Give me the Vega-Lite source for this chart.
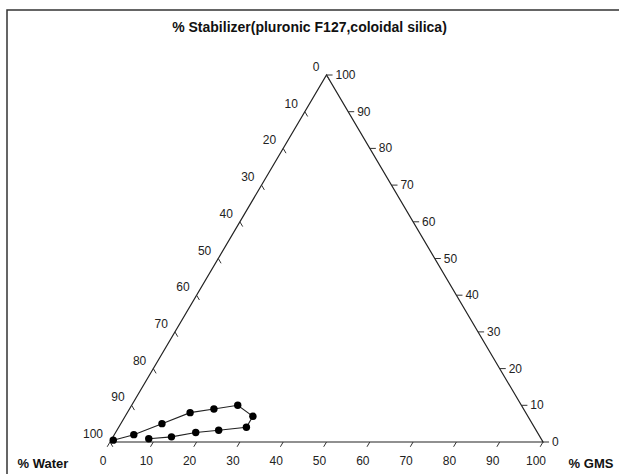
{
  "$schema": "https://vega.github.io/schema/vega-lite/v6.json",
  "width": 613,
  "height": 465,
  "autosize": {"type": "none"},
  "padding": {"left": 7, "top": 10, "right": 0, "bottom": 0},
  "background": "white",
  "title": {
    "text": "% Stabilizer(pluronic F127,coloidal silica)",
    "frame": "group",
    "anchor": "middle",
    "offset": 0,
    "baseline": "middle",
    "dy": 32,
    "dx": -4,
    "fontSize": 14,
    "fontWeight": "bold",
    "font": "Liberation Sans",
    "color": "#111"
  },
  "config": {
    "font": "Liberation Sans",
    "view": {"stroke": "#333", "strokeWidth": 1.5}
  },
  "datasets": {
    "ticks": [
      {"v": 0}, {"v": 10}, {"v": 20}, {"v": 30}, {"v": 40}, {"v": 50},
      {"v": 60}, {"v": 70}, {"v": 80}, {"v": 90}, {"v": 100}
    ],
    "frame": [
      {"i": 0, "gms": 0, "stab": 0},
      {"i": 1, "gms": 100, "stab": 0},
      {"i": 2, "gms": 0, "stab": 100},
      {"i": 3, "gms": 0, "stab": 0}
    ],
    "points": [
      {"i": 1, "water": 99.0, "gms": 0.5, "stab": 0.5},
      {"i": 2, "water": 93.5, "gms": 4.5, "stab": 2.0},
      {"i": 3, "water": 85.5, "gms": 9.5, "stab": 5.0},
      {"i": 4, "water": 77.5, "gms": 14.5, "stab": 8.0},
      {"i": 5, "water": 71.5, "gms": 19.5, "stab": 9.0},
      {"i": 6, "water": 65.5, "gms": 24.5, "stab": 10.0},
      {"i": 7, "water": 63.5, "gms": 29.5, "stab": 7.0},
      {"i": 8, "water": 66.5, "gms": 29.5, "stab": 4.0},
      {"i": 9, "water": 73.3, "gms": 23.5, "stab": 3.2},
      {"i": 10, "water": 78.9, "gms": 18.5, "stab": 2.6},
      {"i": 11, "water": 85.1, "gms": 13.5, "stab": 1.4},
      {"i": 12, "water": 90.6, "gms": 8.5, "stab": 0.9}
    ]
  },
  "layer": [
    {
      "data": {"name": "frame"},
      "transform": [
        {"calculate": "datum.gms + datum.stab / 2", "as": "x"},
        {"calculate": "datum.stab * 0.8660254", "as": "y"}
      ],
      "mark": {"type": "line", "color": "#222", "strokeWidth": 1.2},
      "encoding": {
        "x": {"field": "x", "type": "quantitative", "axis": null, "scale": {"domain": [0, 100], "range": [103, 536], "nice": false, "zero": false}},
        "y": {"field": "y", "type": "quantitative", "axis": null, "scale": {"domain": [0, 86.60254], "range": [432, 65], "nice": false, "zero": false}},
        "order": {"field": "i", "type": "quantitative"}
      }
    },
    {
      "data": {"name": "ticks"},
      "transform": [
        {"calculate": "datum.v", "as": "x"},
        {"calculate": "0", "as": "y"},
        {"calculate": "datum.v - 0.65", "as": "x2"},
        {"calculate": "-1.13", "as": "y2"}
      ],
      "mark": {"type": "rule", "color": "#333", "strokeWidth": 1},
      "encoding": {
        "x": {"field": "x", "type": "quantitative"},
        "y": {"field": "y", "type": "quantitative"},
        "x2": {"field": "x2"},
        "y2": {"field": "y2"}
      }
    },
    {
      "data": {"name": "ticks"},
      "transform": [
        {"calculate": "(100 - datum.v) / 2", "as": "x"},
        {"calculate": "(100 - datum.v) * 0.8660254", "as": "y"},
        {"calculate": "(100 - datum.v) / 2 + 0.65", "as": "x2"},
        {"calculate": "(100 - datum.v) * 0.8660254 - 1.13", "as": "y2"}
      ],
      "mark": {"type": "rule", "color": "#333", "strokeWidth": 1},
      "encoding": {
        "x": {"field": "x", "type": "quantitative"},
        "y": {"field": "y", "type": "quantitative"},
        "x2": {"field": "x2"},
        "y2": {"field": "y2"}
      }
    },
    {
      "data": {"name": "ticks"},
      "transform": [
        {"calculate": "100 - datum.v / 2", "as": "x"},
        {"calculate": "datum.v * 0.8660254", "as": "y"},
        {"calculate": "100 - datum.v / 2 + 1.4", "as": "x2"},
        {"calculate": "datum.v * 0.8660254", "as": "y2"}
      ],
      "mark": {"type": "rule", "color": "#333", "strokeWidth": 1},
      "encoding": {
        "x": {"field": "x", "type": "quantitative"},
        "y": {"field": "y", "type": "quantitative"},
        "x2": {"field": "x2"},
        "y2": {"field": "y2"}
      }
    },
    {
      "data": {"name": "ticks"},
      "transform": [
        {"calculate": "datum.v", "as": "x"},
        {"calculate": "0", "as": "y"}
      ],
      "mark": {"type": "text", "align": "center", "baseline": "middle", "dx": -7, "dy": 19, "fontSize": 12, "color": "#222"},
      "encoding": {
        "x": {"field": "x", "type": "quantitative"},
        "y": {"field": "y", "type": "quantitative"},
        "text": {"field": "v", "type": "quantitative", "format": "d"}
      }
    },
    {
      "data": {"name": "ticks"},
      "transform": [
        {"calculate": "(100 - datum.v) / 2", "as": "x"},
        {"calculate": "(100 - datum.v) * 0.8660254", "as": "y"}
      ],
      "mark": {"type": "text", "align": "right", "baseline": "middle", "dx": -7, "dy": -8, "fontSize": 12, "color": "#222"},
      "encoding": {
        "x": {"field": "x", "type": "quantitative"},
        "y": {"field": "y", "type": "quantitative"},
        "text": {"field": "v", "type": "quantitative", "format": "d"}
      }
    },
    {
      "data": {"name": "ticks"},
      "transform": [
        {"calculate": "100 - datum.v / 2", "as": "x"},
        {"calculate": "datum.v * 0.8660254", "as": "y"}
      ],
      "mark": {"type": "text", "align": "left", "baseline": "middle", "dx": 9, "dy": 0, "fontSize": 12, "color": "#222"},
      "encoding": {
        "x": {"field": "x", "type": "quantitative"},
        "y": {"field": "y", "type": "quantitative"},
        "text": {"field": "v", "type": "quantitative", "format": "d"}
      }
    },
    {
      "data": {"values": [{"label": "% Water", "gms": 0, "stab": 0}]},
      "mark": {"type": "text", "align": "center", "baseline": "middle", "dx": -67, "dy": 22, "fontSize": 13, "fontWeight": "bold", "color": "#111"},
      "encoding": {
        "x": {"field": "gms", "type": "quantitative"},
        "y": {"field": "stab", "type": "quantitative"},
        "text": {"field": "label"}
      }
    },
    {
      "data": {"values": [{"label": "% GMS", "gms": 100, "stab": 0}]},
      "mark": {"type": "text", "align": "center", "baseline": "middle", "dx": 48, "dy": 22, "fontSize": 13, "fontWeight": "bold", "color": "#111"},
      "encoding": {
        "x": {"field": "gms", "type": "quantitative"},
        "y": {"field": "stab", "type": "quantitative"},
        "text": {"field": "label"}
      }
    },
    {
      "data": {"name": "points"},
      "transform": [
        {"calculate": "datum.gms + datum.stab / 2", "as": "x"},
        {"calculate": "datum.stab * 0.8660254", "as": "y"}
      ],
      "mark": {"type": "line", "color": "#222", "strokeWidth": 1.1, "point": {"filled": true, "color": "black", "size": 55, "opacity": 1}},
      "encoding": {
        "x": {"field": "x", "type": "quantitative"},
        "y": {"field": "y", "type": "quantitative"},
        "order": {"field": "i", "type": "quantitative"}
      }
    }
  ]
}
